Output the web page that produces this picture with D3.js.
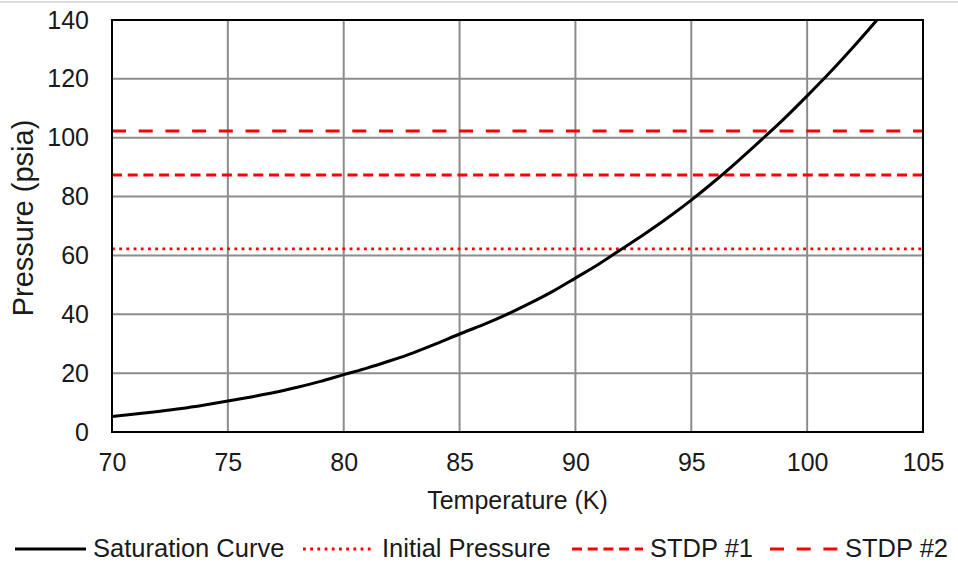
<!DOCTYPE html>
<html>
<head>
<meta charset="utf-8">
<script src="https://cdn.jsdelivr.net/npm/d3@7"></script>
<style>
  body { margin: 0; background: #fff; }
  text { font-family: "Liberation Sans", Arial, sans-serif; fill: #1a1a1a; }
</style>
</head>
<body>
<div id="chart"></div>
<script>
// chart size (matches the window)
var w = 958;
var h = 562;

// saturation curve, temperature (K) vs pressure (psia)
var temps = [70, 71, 72, 73, 74, 75, 76, 77, 78, 79, 80, 81, 82, 83, 84, 85, 86, 87,
             88, 89, 90, 91, 92, 93, 94, 95, 96, 97, 98, 99, 100, 101, 102, 103];
var pressures = [5.3, 6.1, 7.0, 8.0, 9.2, 10.5, 11.9, 13.4, 15.2, 17.2, 19.5, 21.7, 24.2, 26.9,
                 30.0, 33.3, 36.4, 39.8, 43.6, 47.7, 52.3, 57.0, 62.2, 67.4, 72.9, 78.8, 85.2,
                 92.0, 99.1, 106.4, 114.2, 122.3, 130.9, 139.9];

// horizontal pressure levels
var levelNames = ["Initial Pressure", "STDP #1", "STDP #2"];
var levelValues = [62.2, 87.3, 102.3];

var xTicks = [70, 75, 80, 85, 90, 95, 100, 105];
var yTicks = [0, 20, 40, 60, 80, 100, 120, 140];

var seriesNames = ["Saturation Curve"].concat(levelNames);

var margin = {left: 112, right: 35, top: 20, bottom: 130};

var x = d3.scaleLinear().domain([70, 105]).range([margin.left, w - margin.right]);
var y = d3.scaleLinear().domain([0, 140]).range([h - margin.bottom, margin.top]);

var svg = d3.select('#chart').append('svg')
    .attr('width', w)
    .attr('height', h);

// thin frame line at the very top
svg.append('line')
    .attr('x1', 0).attr('x2', w)
    .attr('y1', 2).attr('y2', 2)
    .attr('stroke', '#d0d0d0')
    .attr('stroke-width', 1.5);

// grid
var grid = svg.append('g').attr('class', 'grid');
grid.selectAll('line.gx')
    .data(xTicks.slice(1, -1))
  .enter().append('line')
    .attr('class', 'gx')
    .attr('x1', function(d) { return x(d); })
    .attr('x2', function(d) { return x(d); })
    .attr('y1', y(0)).attr('y2', y(140))
    .attr('stroke', '#8c8c8c').attr('stroke-width', 2);
grid.selectAll('line.gy')
    .data(yTicks.slice(1, -1))
  .enter().append('line')
    .attr('class', 'gy')
    .attr('x1', x(70)).attr('x2', x(105))
    .attr('y1', function(d) { return y(d); })
    .attr('y2', function(d) { return y(d); })
    .attr('stroke', '#8c8c8c').attr('stroke-width', 2);

// styles for the four series
var styles = [
  {color: '#000', width: 3, dash: null},
  {color: '#ff0000', width: 2.8, dash: '2.8,4.4'},
  {color: '#ff0000', width: 3, dash: '10,5.7'},
  {color: '#ff0000', width: 3, dash: '14,12.7'}
];

// level lines
svg.append('g').selectAll('line')
    .data(levelValues)
  .enter().append('line')
    .attr('x1', x(70)).attr('x2', x(105))
    .attr('y1', function(d) { return y(d); })
    .attr('y2', function(d) { return y(d); })
    .attr('stroke', function(d, i) { return styles[i + 1].color; })
    .attr('stroke-width', function(d, i) { return styles[i + 1].width; })
    .attr('stroke-dasharray', function(d, i) { return styles[i + 1].dash; });

// saturation curve (clipped to the plot)
svg.append('clipPath').attr('id', 'clip')
  .append('rect')
    .attr('x', x(70)).attr('y', y(140))
    .attr('width', x(105) - x(70)).attr('height', y(0) - y(140));

var line = d3.line()
    .x(function(d, i) { return x(temps[i]); })
    .y(function(d) { return y(d); })
    .curve(d3.curveMonotoneX);

svg.append('path')
    .datum(pressures)
    .attr('clip-path', 'url(#clip)')
    .attr('d', line)
    .attr('fill', 'none')
    .attr('stroke', '#000')
    .attr('stroke-width', 3);

// plot border
svg.append('rect')
    .attr('x', x(70)).attr('y', y(140))
    .attr('width', x(105) - x(70)).attr('height', y(0) - y(140))
    .attr('fill', 'none')
    .attr('stroke', '#000')
    .attr('stroke-width', 2);

// axes (labels only)
var xAxis = svg.append('g')
    .attr('transform', 'translate(0,' + y(0) + ')')
    .call(d3.axisBottom(x).tickValues(xTicks).tickSize(0).tickPadding(21));
var yAxis = svg.append('g')
    .attr('transform', 'translate(' + x(70) + ',0)')
    .call(d3.axisLeft(y).tickValues(yTicks).tickSize(0).tickPadding(23));
[xAxis, yAxis].forEach(function(a) {
  a.select('.domain').remove();
  a.selectAll('text')
    .style('font-family', '"Liberation Sans", Arial, sans-serif')
    .style('font-size', '25px')
    .attr('fill', '#1a1a1a');
});

// axis titles
svg.append('text')
    .attr('x', (x(70) + x(105)) / 2)
    .attr('y', 509)
    .attr('text-anchor', 'middle')
    .style('font-size', '25px')
    .text('Temperature (K)');

svg.append('text')
    .attr('transform', 'translate(33,218) rotate(-90)')
    .attr('text-anchor', 'middle')
    .style('font-size', '29px')
    .text('Pressure (psia)');

// legend
var legendLineX = [15, 303, 572, 770];
var legendTextX = [93, 382, 650, 845];
var legend = svg.append('g').attr('class', 'legend');
var items = legend.selectAll('g')
    .data(seriesNames)
  .enter().append('g');
items.append('line')
    .attr('x1', function(d, i) { return legendLineX[i]; })
    .attr('x2', function(d, i) { return legendLineX[i] + 71; })
    .attr('y1', 549).attr('y2', 549)
    .attr('stroke', function(d, i) { return styles[i].color; })
    .attr('stroke-width', function(d, i) { return styles[i].width; })
    .attr('stroke-dasharray', function(d, i) { return styles[i].dash; });
items.append('text')
    .attr('x', function(d, i) { return legendTextX[i]; })
    .attr('y', 557)
    .style('font-size', '25.5px')
    .text(function(d) { return d; });
</script>
</body>
</html>
